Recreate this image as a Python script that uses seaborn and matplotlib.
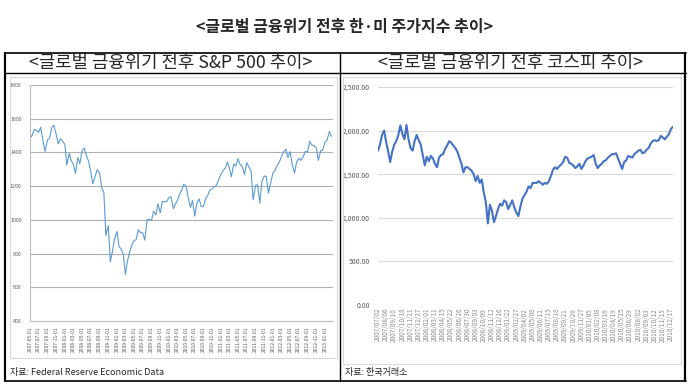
import numpy as np
import pandas as pd
import matplotlib
matplotlib.use("Agg")
import matplotlib.pyplot as plt
import seaborn as sns
from matplotlib.patches import Rectangle
from matplotlib.lines import Line2D

# S&P 500, twice a month (1st / 15th), 2007-05 .. 2013-02
sp_values = [
    1482, 1501, 1536, 1532, 1519, 1549, 1465, 1406, 1474, 1484, 1547, 1562, 1508, 1451, 1481, 1467,
    1447, 1325, 1395, 1349, 1331, 1276, 1370, 1334, 1409, 1426, 1377, 1350,
    1284, 1214, 1260, 1298, 1278, 1192, 1161, 907, 966, 752, 816, 888,
    931, 843, 825, 789, 676, 753, 811, 852, 877, 882, 942, 923,
    923, 880, 1002, 1004, 998, 1052, 1029, 1096, 1042, 1109, 1108, 1107,
    1133, 1136, 1066, 1094, 1115, 1150, 1178, 1211, 1202, 1136, 1074, 1115,
    1022, 1096, 1125, 1080, 1080, 1125, 1146, 1176, 1184, 1197, 1206, 1236,
    1271, 1293, 1307, 1343, 1306, 1256, 1332, 1319, 1363, 1329, 1315, 1268,
    1339, 1316, 1287, 1119, 1204, 1209, 1099, 1224, 1260, 1257, 1158, 1215,
    1277, 1293, 1324, 1343, 1374, 1403, 1419, 1369, 1405, 1330, 1278, 1342,
    1365, 1353, 1375, 1405, 1404, 1466, 1444, 1440, 1427, 1353, 1409, 1413,
    1462, 1472, 1525, 1495,
]
sp_dates = pd.date_range("2007-05-01", periods=len(sp_values), freq="SMS")
sp_ticks = pd.date_range("2007-05-01", "2013-01-01", freq="2MS")

# KOSPI, one value every 6 trading days from 2007/07/02
kospi_values = [
    1770,
    1840, 1950, 2000, 1870,
    1760, 1640, 1760, 1840,
    1880, 1950, 2060, 1960,
    1900, 2065, 1900, 1800,
    1770, 1880, 1950, 1890,
    1840, 1720, 1600, 1700,
    1650, 1710, 1680, 1620,
    1580, 1690, 1720, 1730,
    1790, 1830, 1880, 1860,
    1830, 1800, 1760, 1690,
    1620, 1520, 1580, 1580,
    1560, 1540, 1500, 1420,
    1480, 1400, 1440, 1290,
    1180, 935, 1150, 1080,
    950, 1020, 1100, 1160,
    1140, 1200, 1180, 1100,
    1150, 1200, 1120, 1060,
    1020, 1130, 1220, 1260,
    1300, 1360, 1340, 1400,
    1400, 1400, 1420, 1400,
    1380, 1400, 1390, 1420,
    1480, 1550, 1580, 1560,
    1590, 1610, 1640, 1700,
    1690, 1630, 1620, 1600,
    1570, 1590, 1620, 1560,
    1600, 1650, 1680, 1690,
    1700, 1720, 1620, 1570,
    1600, 1620, 1650, 1660,
    1690, 1710, 1730, 1730,
    1740, 1680, 1620, 1560,
    1640, 1660, 1710, 1700,
    1690, 1730, 1750, 1770,
    1780, 1740, 1750, 1780,
    1800, 1850, 1880, 1890,
    1880, 1890, 1940, 1920,
    1900, 1930, 1960, 2020,
    2045,
]
kospi_labels = [
    "2007/07/02", "2007/08/06", "2007/09/10", "2007/10/18", "2007/11/21", "2007/12/27",
    "2008/02/01", "2008/03/11", "2008/04/15", "2008/05/22", "2008/06/26", "2008/07/30",
    "2008/09/03", "2008/10/09", "2008/11/12", "2008/12/16", "2009/01/22", "2009/02/27",
    "2009/04/02", "2009/05/08", "2009/06/11", "2009/07/15", "2009/08/18", "2009/09/21",
    "2009/10/26", "2009/11/27", "2010/01/05", "2010/02/08", "2010/03/16", "2010/04/19",
    "2010/05/25", "2010/06/29", "2010/08/02", "2010/09/03", "2010/10/12", "2010/11/15",
    "2010/12/17",
]
kospi_step = 6
label_step = 24

sns.set_style("white")
plt.rcParams["font.family"] = ["Noto Sans CJK KR", "DejaVu Sans"]

W, H = 691, 387
fig = plt.figure(figsize=(W / 100, H / 100), dpi=100)


def box(x0, y0, x1, y1):
    return [x0 / W, 1 - y1 / H, (x1 - x0) / W, (y1 - y0) / H]


def hline(x0, x1, y, color="black", lw=1.0):
    fig.add_artist(Line2D([x0 / W, x1 / W], [1 - y / H, 1 - y / H], color=color, lw=lw))


def vline(x, y0, y1, color="black", lw=1.0):
    fig.add_artist(Line2D([x / W, x / W], [1 - y0 / H, 1 - y1 / H], color=color, lw=lw))


# title and table frame
fig.text(345 / W, 1 - 27 / H, "<글로벌 금융위기 전후 한·미 주가지수 추이>",
         ha="center", va="center", fontsize=11.5, fontweight="heavy")
hline(5, 686, 53, lw=1.2)
hline(5, 686, 73, lw=1.0)
hline(5, 686, 381, lw=1.2)
vline(5, 53, 381, lw=1.6)
vline(685, 53, 381, lw=1.6)
vline(340, 53, 381, lw=1.0)
fig.text(171 / W, 1 - 63 / H, "<글로벌 금융위기 전후 S&P 500 추이>",
         ha="center", va="center", fontsize=12.8, fontweight="light")
fig.text(511 / W, 1 - 63 / H, "<글로벌 금융위기 전후 코스피 추이>",
         ha="center", va="center", fontsize=12.8, fontweight="light")

# inner chart frames
for x0, y0, x1, y1 in [(10, 77, 337, 358), (343, 77, 681, 364)]:
    fig.add_artist(Rectangle((x0 / W, 1 - y1 / H), (x1 - x0) / W, (y1 - y0) / H,
                             fill=False, edgecolor="#d9d9d9", lw=0.8))

# left: S&P 500
ax1 = fig.add_axes(box(30, 85, 333, 321))
sp_df = pd.DataFrame({"date": sp_dates, "value": sp_values})
sns.lineplot(data=sp_df, x="date", y="value", ax=ax1, color="#5b9bd5", lw=0.8)
ax1.set_xlim(sp_dates[0], pd.Timestamp("2013-02-26"))
ax1.set_ylim(400, 1800)
ax1.set_yticks(np.arange(400, 1801, 200))
ax1.set_xticks(sp_ticks)
ax1.set_xticklabels([d.strftime("%Y-%m-%d") for d in sp_ticks], rotation=90, fontsize=3.6,
                    color="#595959")
ax1.tick_params(axis="y", labelsize=3.8, labelcolor="#595959", length=0, pad=6)
ax1.tick_params(axis="x", length=2, color="#bfbfbf", pad=2)
ax1.grid(axis="y", color="#b0b0b0", lw=0.8)
ax1.set_xlabel("")
ax1.set_ylabel("")
for s in ["top", "right"]:
    ax1.spines[s].set_visible(False)
for s in ["left", "bottom"]:
    ax1.spines[s].set_color("#bfbfbf")
    ax1.spines[s].set_linewidth(0.8)

# right: KOSPI
ax2 = fig.add_axes(box(378, 87, 673, 305))
k_df = pd.DataFrame({"day": np.arange(len(kospi_values)) * kospi_step, "value": kospi_values})
sns.lineplot(data=k_df, x="day", y="value", ax=ax2, color="#4472c4", lw=1.5)
ax2.set_xlim(0, (len(kospi_values) - 1) * kospi_step)
ax2.set_ylim(0, 2500)
ax2.set_yticks(np.arange(0, 2501, 500))
ax2.set_yticklabels([f"{v:,.2f}" for v in np.arange(0, 2501, 500)])
ax2.set_xticks(np.arange(len(kospi_labels)) * label_step)
ax2.set_xticklabels(kospi_labels, rotation=90, fontsize=4.6, color="#8c8c8c")
ax2.tick_params(axis="y", labelsize=5, labelcolor="#595959", length=0, pad=6)
ax2.tick_params(axis="x", length=0, pad=2)
ax2.grid(axis="y", color="#d9d9d9", lw=0.8)
ax2.set_xlabel("")
ax2.set_ylabel("")
for s in ["top", "right", "left", "bottom"]:
    ax2.spines[s].set_visible(False)

# sources
fig.text(10 / W, 1 - 372 / H, "자료: Federal Reserve Economic Data", ha="left", va="center",
         fontsize=6.5)
fig.text(345 / W, 1 - 372 / H, "자료: 한국거래소", ha="left", va="center", fontsize=6.5)

fig.savefig("out.png", dpi=100, facecolor="white")
